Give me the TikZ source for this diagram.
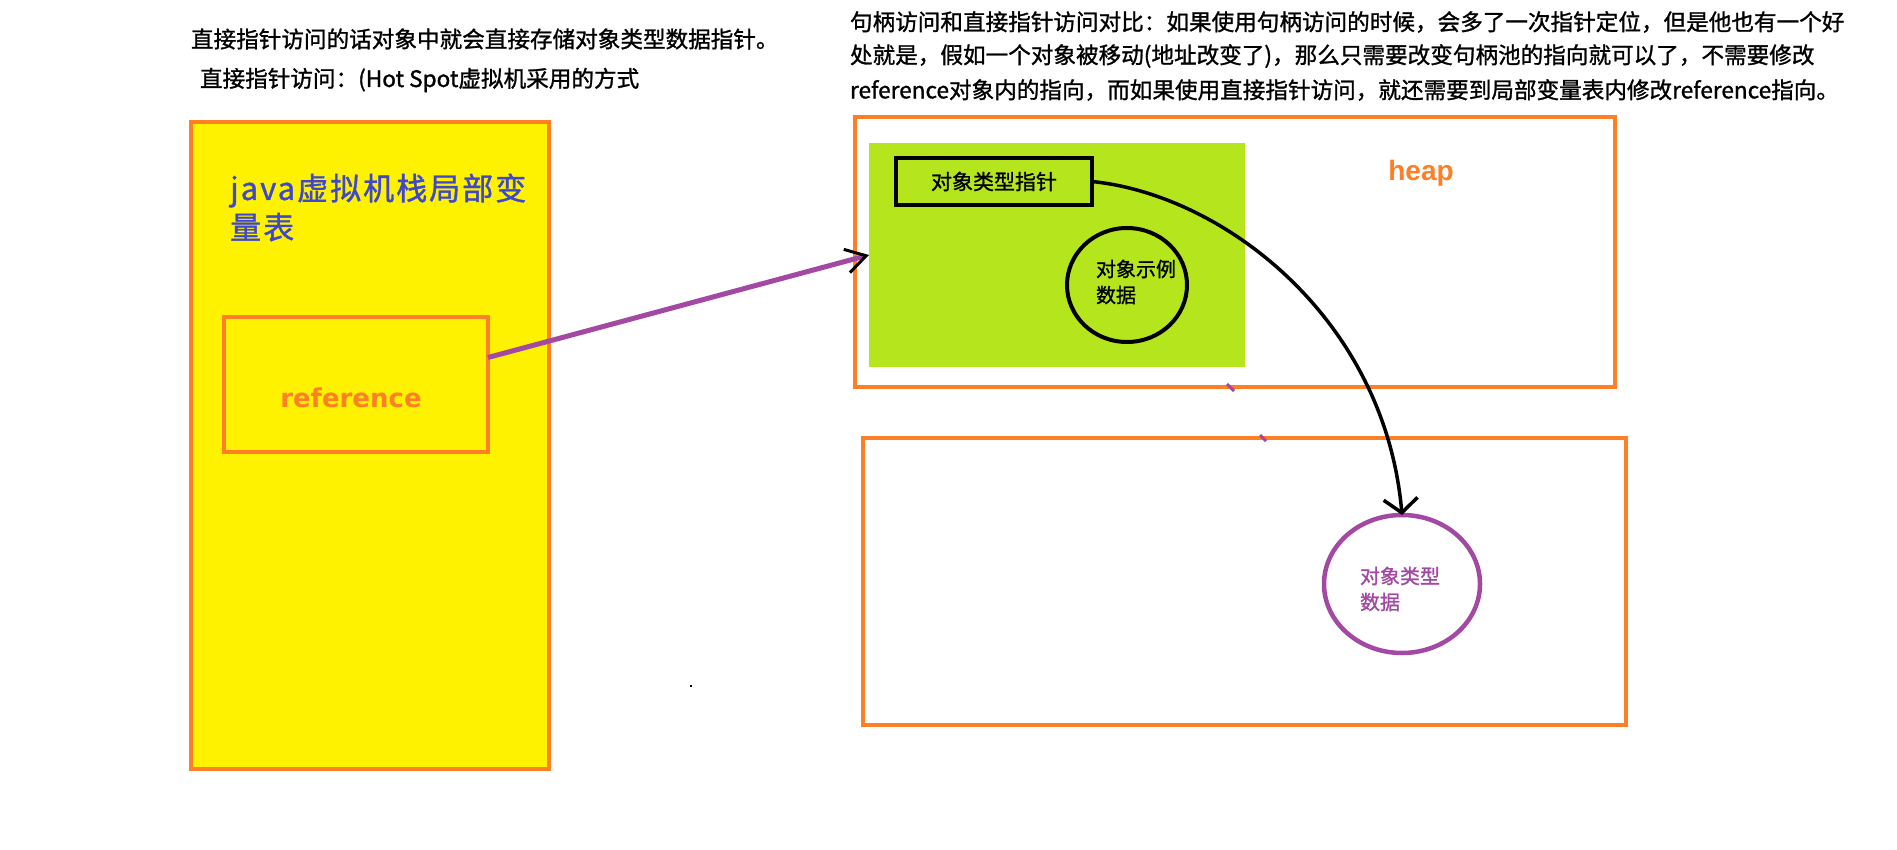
\documentclass[tikz,border=0pt]{standalone}
\usepackage{fontspec}
\setmainfont{Noto Sans CJK SC}
\newfontfamily\heavy{Noto Sans CJK SC}[FakeBold=1.2]
\newfontfamily\latinb{Liberation Sans}
\newfontfamily\dejab{DejaVu Sans}
\usetikzlibrary{arrows.meta,calc,shapes.geometric}
\definecolor{porange}{HTML}{FF7F27}
\definecolor{pyellow}{HTML}{FFF200}
\definecolor{plime}{HTML}{B5E61D}
\definecolor{ppurple}{HTML}{A349A4}
\definecolor{pindigo}{HTML}{3F48CC}
\begin{document}
\begin{tikzpicture}[x=1pt,y=-1pt,
  box/.style={draw=porange,line width=4.5pt,inner sep=0pt,outer sep=0pt},
  note/.style={anchor=west,inner sep=0pt,outer sep=0pt,font=\heavy\fontsize{22.6}{34}\selectfont},
  small/.style={inner sep=0pt,outer sep=0pt,align=left,font=\heavy\fontsize{20}{26}\selectfont}]
\useasboundingbox[fill=white] (0,0) rectangle (1897,850);
% notes
\node[note] (n1) at (191,39) {直接指针访问的话对象中就会直接存储对象类型数据指针。};
\node[note] (n2) at (200,80) {直接指针访问：(Hot Spot虚拟机采用的方式};
\node[note] (r1) at (850,22) {句柄访问和直接指针访问对比：如果使用句柄访问的时候，会多了一次指针定位，但是他也有一个好};
\node[note] (r2) at (850,56) {处就是，假如一个对象被移动(地址改变了)，那么只需要改变句柄池的指向就可以了，不需要修改};
\node[note] (r3) at (850,90) {reference对象内的指向，而如果使用直接指针访问，就还需要到局部变量表内修改reference指向。};
% stack
\node[box,fill=pyellow,minimum width=358pt,minimum height=647pt] (stack) at (370,445.5) {};
\node[anchor=west,inner sep=0pt,align=left,text=pindigo,font=\heavy\fontsize{31}{39}\selectfont\addfontfeature{LetterSpace=6.5}] (title) at (230,207.5) {java虚拟机栈局部变\\量表};
\node[box,minimum width=264pt,minimum height=135pt] (ref) at (356,384.5) {};
\node[inner sep=0pt,text=porange,font=\dejab\bfseries\fontsize{26}{30}\selectfont] (reftxt) at (351,398) {reference};
% heap
\node[box,minimum width=760pt,minimum height=270pt] (heap) at (1235,252) {};
\node[inner sep=0pt,outer sep=0pt,fill=plime,minimum width=376pt,minimum height=224pt] (obj) at (1057,255) {};
\node[draw=black,line width=4pt,inner sep=0pt,outer sep=0pt,minimum width=196pt,minimum height=47pt,font=\heavy\fontsize{21}{26}\selectfont] (ptr) at (994,181.5) {对象类型指针};
\node[draw=black,line width=4pt,ellipse,inner sep=0pt,outer sep=0pt,minimum width=120pt,minimum height=114pt] (inst) at (1127,285) {};
\node[small,anchor=west] (insttxt) at (1096,282) {对象示例\\数据};
\node[inner sep=0pt,text=porange,font=\latinb\bfseries\fontsize{28}{32}\selectfont] (heaptxt) at (1421,173) {heap};
% lower area
\node[box,minimum width=763pt,minimum height=287pt] (area) at (1244.5,581.5) {};
\node[draw=ppurple,line width=4.5pt,ellipse,inner sep=0pt,outer sep=0pt,minimum width=156pt,minimum height=138pt] (tdata) at (1402,584) {};
\node[small,anchor=west,text=ppurple] (tdtxt) at (1360,589) {对象类型\\数据};
% stray marks
\draw[ppurple,line width=3pt] (1227,384) -- (1234,391);
\draw[ppurple,line width=3pt] (1260,435) -- (1266,441);
\fill[black] (690,685) rectangle (692,687);
% connectors
\draw[ppurple,line width=5pt,-{Straight Barb[color=black,length=20pt,width=24pt,line width=3pt]}] ($(ref.east)+(0,-27)$) -- (obj.west);
\draw[black,line width=3.5pt,-{Straight Barb[length=14pt,width=34pt]}] (ptr.east) .. controls (1225,195) and (1385,320) .. (tdata.north);
\end{tikzpicture}
\end{document}
